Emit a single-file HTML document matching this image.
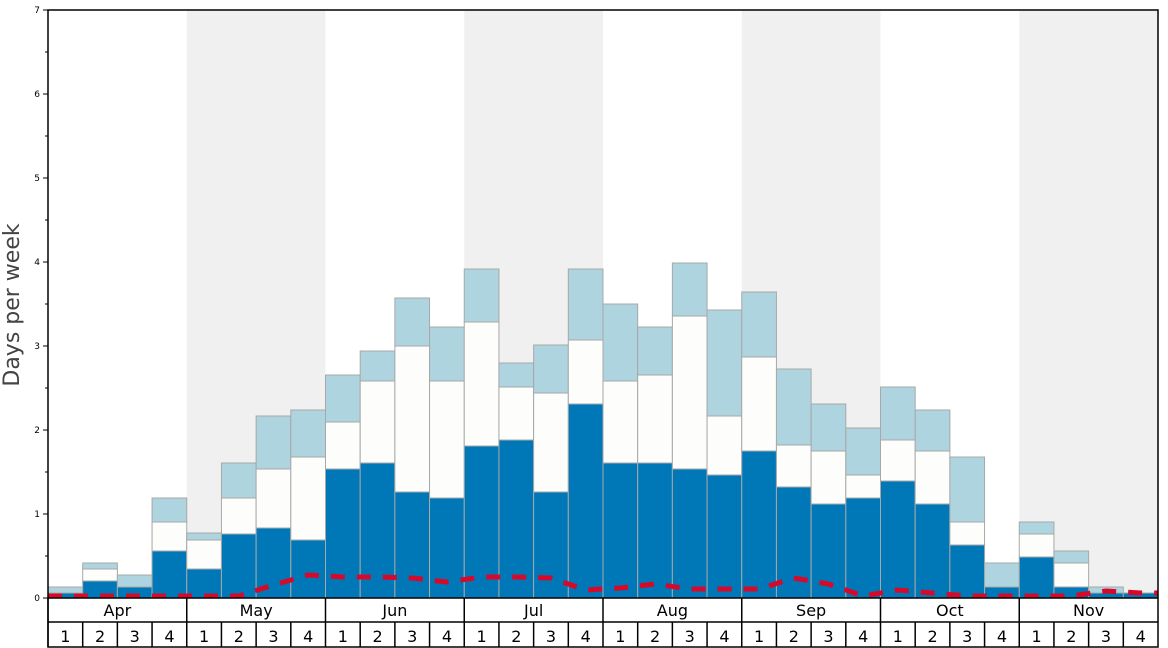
<!DOCTYPE html>
<html><head><meta charset="utf-8"><style>
html,body{margin:0;padding:0;background:#fff;}
svg{display:block;font-family:"DejaVu Sans","Liberation Sans",sans-serif;}
</style></head><body>
<svg id="c" width="1168" height="648" viewBox="0 0 1168 648" xmlns="http://www.w3.org/2000/svg"></svg>
<script>
const S=document.getElementById('c');let h='';
const X0=48,X1=1158,Y0=598,Yt=10,W=(X1-X0)/32;
// backgrounds
for(let m=0;m<8;m++){if(m%2==1)h+=`<rect x="${X0+m*4*W}" y="${Yt}" width="${4*W}" height="${Y0-Yt}" fill="#f0f0f0"/>`;}
const d=[[593,593,587],[581,569,563],[587,587,575],[551,522,498],[569,540,533],[534,498,463],[528,469,416],[540,457,410],
[469,422,375],[463,381,351],[492,346,298],[498,381,327],[446,322,269],[440,387,363],[492,393,345],[404,340,269],
[463,381,304],[463,375,327],[469,316,263],[475,416,310],[451,357,292],[487,445,369],[504,451,404],[498,475,428],
[481,440,387],[504,451,410],[545,522,457],[587,587,563],[557,534,522],[587,563,551],[593,593,587],[593,593,593]];
d.forEach((v,i)=>{const x=X0+i*W;
 if(v[2]<v[1])h+=`<rect x="${x}" y="${v[2]}" width="${W}" height="${v[1]-v[2]}" fill="#aed4e0" stroke="#a8a8a8" stroke-width="1"/>`;
 if(v[1]<v[0])h+=`<rect x="${x}" y="${v[1]}" width="${W}" height="${v[0]-v[1]}" fill="#fdfdfb" stroke="#a8a8a8" stroke-width="1"/>`;
 h+=`<rect x="${x}" y="${v[0]}" width="${W}" height="${Y0-v[0]}" fill="#0077b6" stroke="#a8a8a8" stroke-width="1"/>`;
});
const r=[596,596,596,596,596,596,585,575,577,577,578,582,577,577,578,590,588,584,589,589,589,578,584,596,590,593,596,596,596,596,591,593];
let p='M'+X0+' 596 ';r.forEach((y,i)=>{p+='L'+(X0+(i+0.5)*W)+' '+y+' ';});p+='L'+X1+' 593';
h+=`<path d="${p}" fill="none" stroke="#d7092a" stroke-width="5" stroke-dasharray="14,12"/>`;
// axes
h+=`<rect x="${X0}" y="${Yt}" width="${X1-X0}" height="${647-Yt}" fill="none" stroke="#000" stroke-width="1.5"/>`;
h+=`<line x1="${X0}" y1="${Y0}" x2="${X1}" y2="${Y0}" stroke="#000" stroke-width="1.5"/>`;
h+=`<line x1="${X0}" y1="622" x2="${X1}" y2="622" stroke="#000" stroke-width="1.5"/>`;
for(let i=0;i<=7;i++){const y=Y0-i*84;h+=`<line x1="${X0-5}" y1="${y}" x2="${X0}" y2="${y}" stroke="#000"/><text x="${X0-8}" y="${y+3}" font-size="9" text-anchor="end">${i}</text>`;
 if(i<7)h+=`<line x1="${X0-3}" y1="${y-42}" x2="${X0}" y2="${y-42}" stroke="#000"/>`;}
h+=`<text transform="translate(19,305) rotate(-90)" font-size="22" fill="#444" text-anchor="middle">Days per week</text>`;
const M=['Apr','May','Jun','Jul','Aug','Sep','Oct','Nov'];
M.forEach((m,k)=>{const x=X0+k*4*W;h+=`<line x1="${x}" y1="${Y0}" x2="${x}" y2="647" stroke="#000" stroke-width="1.5"/><text x="${x+2*W}" y="616" font-size="16" text-anchor="middle">${m}</text>`;
 for(let w=0;w<4;w++){const xx=x+w*W;if(w>0)h+=`<line x1="${xx}" y1="622" x2="${xx}" y2="647" stroke="#000" stroke-width="1.5"/>`;h+=`<text x="${xx+W/2}" y="642" font-size="16" text-anchor="middle">${w+1}</text>`;}});
S.innerHTML=h;
</script>
</body></html>
